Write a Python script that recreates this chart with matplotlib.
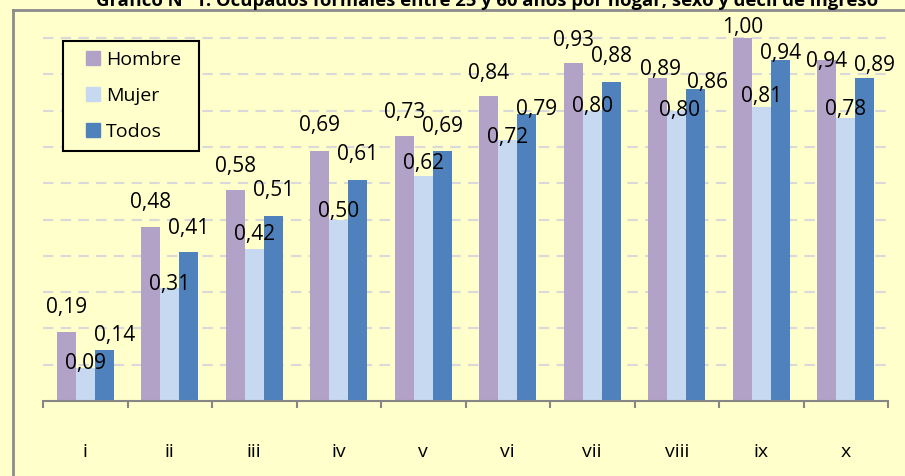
import numpy as np
import matplotlib.pyplot as plt
from matplotlib.lines import Line2D

deciles = ['i', 'ii', 'iii', 'iv', 'v', 'vi', 'vii', 'viii', 'ix', 'x']
hombre = [0.19, 0.48, 0.58, 0.69, 0.73, 0.84, 0.93, 0.89, 1.00, 0.94]
mujer = [0.09, 0.31, 0.42, 0.50, 0.62, 0.72, 0.80, 0.80, 0.81, 0.78]
todos = [0.14, 0.41, 0.51, 0.61, 0.69, 0.79, 0.88, 0.86, 0.94, 0.89]

# label nudges (pixels) copied from how the labels sit in the original
hombre_dy = [25, 24, 24, 25, 24, 23, 23, 8, 10, -2]
hombre_dx = [0, 0, 0, 0, 0, 0, 0, 3, 0, 0]
mujer_dy = [5, 4, 14, 8, 12, 2, 4, 0, 10, 8]
mujer_dx = [0, 0, 0, 0, 0, 0, 0, 3, 0, 0]
todos_dy = [15, 24, 25, 25, 24, 5, 25, 6, 6, 12]
todos_dx = [10, 0, 0, 0, 0, 10, 0, 12, 0, 10]

bg = '#FFFFCC'
colors = ['#B3A2C7', '#C6D9F1', '#4F81BD']
font = 'Open Sans'

fig = plt.figure(figsize=(9.05, 4.76), dpi=100, facecolor=bg)
W, H = 905, 476
ax = fig.add_axes([43 / W, 75 / H, 845 / W, 399.3 / H])
ax.set_facecolor('none')

x = np.arange(len(deciles))
w = 0.225
series = [('Hombre', hombre, hombre_dx, hombre_dy),
          ('Mujer', mujer, mujer_dx, mujer_dy),
          ('Todos', todos, todos_dx, todos_dy)]
handles = []
for j, (name, vals, dxs, dys) in enumerate(series):
    pos = x + (j - 1) * w
    ax.bar(pos, vals, width=w, color=colors[j], zorder=2)
    handles.append(Line2D([], [], linestyle='none', marker='s', markersize=10,
                          markerfacecolor=colors[j], markeredgecolor=colors[j], label=name))
    for p, v, dx, dy in zip(pos, vals, dxs, dys):
        ax.annotate(f'{v:.2f}'.replace('.', ','), (p, v), xytext=(dx, dy),
                    textcoords='offset pixels', ha='center', va='center',
                    fontsize=15, family=font, zorder=3)

ax.set_xlim(-0.5, len(deciles) - 0.5)
ax.set_ylim(0, 1.1)
ax.set_yticks(np.arange(0.1, 1.01, 0.1))
ax.yaxis.grid(True, color='#D9D9D9', linestyle=(0, (5, 3.5)), linewidth=1.5, zorder=0)
ax.tick_params(axis='y', left=False, labelleft=False)

for s in ['top', 'right', 'left']:
    ax.spines[s].set_visible(False)
ax.spines['bottom'].set_color('#868686')
ax.spines['bottom'].set_linewidth(1.5)

ax.set_xticks(x)
ax.set_xticklabels(deciles, family=font, fontsize=14)
ax.set_xticks(np.arange(-0.5, len(deciles)), minor=True)
ax.tick_params(axis='x', which='major', length=0, pad=30)
ax.tick_params(axis='x', which='minor', length=5, width=1.5, color='#868686', direction='out')

leg = ax.legend(handles=handles, loc='upper left',
                bbox_to_anchor=(63 / W, 1 - 147 / H, 136 / W, 106 / H), mode='expand',
                bbox_transform=fig.transFigure, fancybox=False, frameon=True,
                edgecolor='black', facecolor=bg, framealpha=1,
                prop={'family': font, 'size': 14}, handlelength=2.1,
                handletextpad=-0.38, labelspacing=0.93,
                borderpad=0.5, borderaxespad=0)
leg.get_frame().set_linewidth(1.5)

# outer chart border (left and top edges visible in the crop)
fig.add_artist(Line2D([13 / W, 13 / W], [0, 1 - 10 / H], color='#8C8C8C', linewidth=2))
fig.add_artist(Line2D([13 / W, 1], [1 - 10 / H, 1 - 10 / H], color='#8C8C8C', linewidth=2))

fig.text(487 / W, 1 - 1 / H,
         'Gráfico N° 1: Ocupados formales entre 25 y 60 años por hogar, sexo y decil de ingreso',
         ha='center', va='center', fontsize=13.3, fontweight='bold', family=font)

fig.savefig('out.png', dpi=100, facecolor=bg)
